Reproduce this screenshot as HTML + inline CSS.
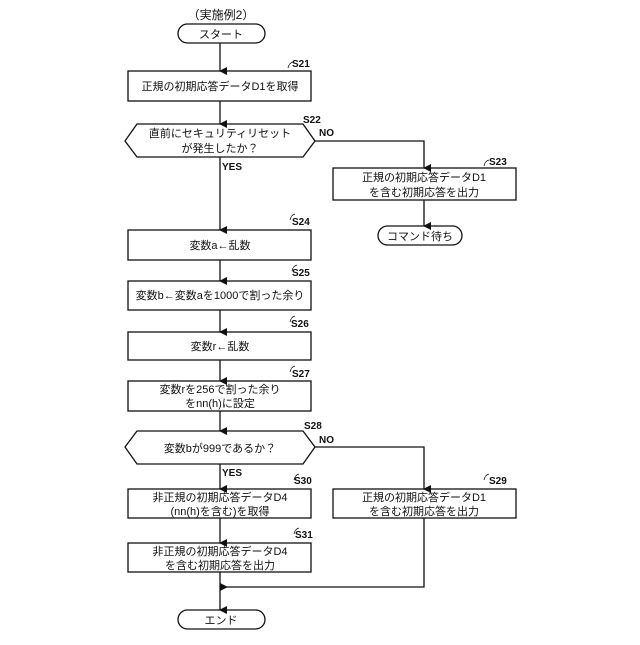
<!DOCTYPE html>
<html><head><meta charset="utf-8"><style>
body{margin:0;background:#fff}
svg text{font-family:"Liberation Sans","Noto Sans CJK JP",sans-serif;fill:#111}
</style></head><body>
<svg width="640" height="640" viewBox="0 0 640 640" xmlns="http://www.w3.org/2000/svg">
<defs><marker id="a" markerWidth="8" markerHeight="8" refX="4" refY="7" orient="auto" markerUnits="userSpaceOnUse"><path d="M0,0 L8,0 L4,8z" fill="#111" transform="rotate(0)"/></marker>
<marker id="l" markerWidth="8" markerHeight="8" refX="7" refY="4" orient="auto" markerUnits="userSpaceOnUse"><path d="M8,0 L8,8 L0,4z" fill="#111"/></marker></defs>
<g stroke="#111" stroke-width="1.3" fill="none">
<rect x="178" y="24" width="87" height="19" rx="9.5"/>
<rect x="128" y="71" width="183" height="30"/>
<path d="M125,141 L137,124 L303,124 L315,141 L303,157 L137,157 Z"/>
<rect x="333" y="168" width="183" height="32"/>
<rect x="378" y="226" width="84" height="19" rx="9.5"/>
<rect x="128" y="230" width="183" height="30"/>
<rect x="128" y="281" width="183" height="29"/>
<rect x="128" y="332" width="183" height="28"/>
<rect x="128" y="381" width="183" height="30"/>
<path d="M125,447 L137,431 L303,431 L315,447 L303,464 L137,464 Z"/>
<rect x="128" y="489" width="183" height="29"/>
<rect x="333" y="489" width="183" height="29"/>
<rect x="128" y="543" width="183" height="29"/>
<rect x="178" y="610" width="87" height="19" rx="9.5"/>
<path d="M220,43 V71" marker-end="url(#a)"/>
<path d="M220,101 V124" marker-end="url(#a)"/>
<path d="M220,157 V230" marker-end="url(#a)"/>
<path d="M315,141 H424 V168" marker-end="url(#a)"/>
<path d="M424,200 V226" marker-end="url(#a)"/>
<path d="M220,260 V281" marker-end="url(#a)"/>
<path d="M220,310 V332" marker-end="url(#a)"/>
<path d="M220,360 V381" marker-end="url(#a)"/>
<path d="M220,411 V431" marker-end="url(#a)"/>
<path d="M220,464 V489" marker-end="url(#a)"/>
<path d="M315,447 H424 V489" marker-end="url(#a)"/>
<path d="M220,518 V543" marker-end="url(#a)"/>
<path d="M220,572 V610" marker-end="url(#a)"/>
<path d="M424,518 V587 H221" marker-end="url(#l)"/>
<path d="M288,68 q1,-5 5,-6 M290,220 q1,-5 5,-6 M292,271 q1,-5 5,-6 M290,322 q1,-5 5,-6 M290,372 q1,-5 5,-6 M294,480 q1,-5 5,-6 M294,534 q1,-5 5,-6 M484,480 q1,-5 5,-6 M484,166 q1,-5 5,-6" stroke-width="0.8"/>
</g>
<g font-size="11" text-anchor="middle">
<text x="221" y="19" font-size="12">（実施例2）</text>
<text x="221" y="38">スタート</text>
<text x="220" y="90">正規の初期応答データD1を取得</text>
<text x="220" y="137">直前にセキュリティリセット</text>
<text x="220" y="152">が発生したか？</text>
<text x="424" y="181">正規の初期応答データD1</text>
<text x="424" y="196">を含む初期応答を出力</text>
<text x="420" y="240">コマンド待ち</text>
<text x="220" y="249">変数a←乱数</text>
<text x="220" y="299">変数b←変数aを1000で割った余り</text>
<text x="220" y="350">変数r←乱数</text>
<text x="220" y="393">変数rを256で割った余り</text>
<text x="220" y="407">をnn(h)に設定</text>
<text x="220" y="452">変数bが999であるか？</text>
<text x="220" y="501">非正規の初期応答データD4</text>
<text x="220" y="515">(nn(h)を含む)を取得</text>
<text x="424" y="501">正規の初期応答データD1</text>
<text x="424" y="515">を含む初期応答を出力</text>
<text x="220" y="555">非正規の初期応答データD4</text>
<text x="220" y="569">を含む初期応答を出力</text>
<text x="221" y="624">エンド</text>
</g>
<g font-size="10" font-weight="bold">
<text x="292" y="67">S21</text><text x="303" y="123">S22</text><text x="319" y="136">NO</text>
<text x="222" y="170">YES</text><text x="489" y="165">S23</text>
<text x="292" y="225">S24</text><text x="292" y="276">S25</text><text x="291" y="327">S26</text>
<text x="292" y="377">S27</text><text x="304" y="429">S28</text><text x="319" y="443">NO</text>
<text x="222" y="476">YES</text><text x="294" y="484">S30</text><text x="489" y="484">S29</text>
<text x="295" y="538">S31</text>
</g>
</svg>
</body></html>
